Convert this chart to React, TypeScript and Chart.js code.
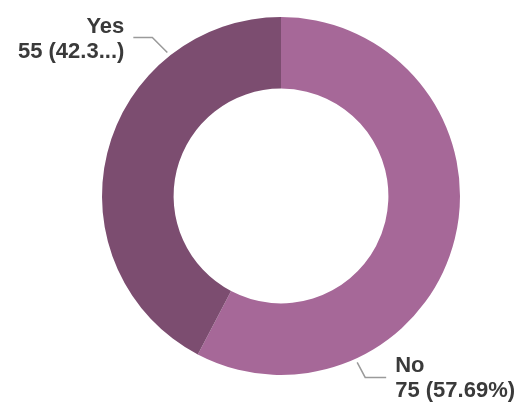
import React, { useEffect, useRef } from "react";
import { Chart, registerables } from "chart.js";

Chart.register(...registerables);

const categories = ["No", "Yes"];
const counts = [75, 55];
const valueLabels = ["75 (57.69%)", "55 (42.3...)"];
const colors = ["#A66898", "#7C4D70"];

// label placement config (angles in degrees, canvas convention)
const labelPlacement = [
  { angle: 65.4, elbow: [8, 15], run: 21, side: "right" },
  { angle: 231.6, elbow: [-15, -15], run: 19, side: "left" },
];

const calloutPlugin = {
  id: "callouts",
  afterDatasetsDraw(chart: any) {
    const meta = chart.getDatasetMeta(0);
    const ctx = chart.ctx;
    meta.data.forEach((arc: any, i: number) => {
      const p = labelPlacement[i];
      const a = (p.angle * Math.PI) / 180;
      const r = arc.outerRadius + 4;
      const ax = arc.x + r * Math.cos(a);
      const ay = arc.y + r * Math.sin(a);
      const ex = ax + p.elbow[0];
      const ey = ay + p.elbow[1];
      const dir = p.side === "right" ? 1 : -1;
      const hx = ex + dir * p.run;
      ctx.save();
      ctx.strokeStyle = "#9a9a9a";
      ctx.lineWidth = 1.5;
      ctx.beginPath();
      ctx.moveTo(ax, ay);
      ctx.lineTo(ex, ey);
      ctx.lineTo(hx, ey);
      ctx.stroke();
      ctx.fillStyle = "#3a3a3a";
      ctx.font = "bold 22px 'Liberation Sans', Arial, sans-serif";
      ctx.textAlign = p.side === "right" ? "left" : "right";
      ctx.textBaseline = "alphabetic";
      const tx = hx + dir * 9;
      ctx.fillText(categories[i], tx, ey - 5);
      ctx.fillText(valueLabels[i], tx, ey + 20);
      ctx.restore();
    });
  },
};

export default function App() {
  const ref = useRef<HTMLCanvasElement | null>(null);
  useEffect(() => {
    const chart = new Chart(ref.current as HTMLCanvasElement, {
      type: "doughnut",
      data: {
        labels: categories,
        datasets: [
          {
            data: counts,
            backgroundColor: colors,
            borderWidth: 0,
          },
        ],
      },
      options: {
        animation: false,
        responsive: false,
        cutout: "60%",
        layout: { padding: { left: 102, right: 71, top: 17, bottom: 29 } },
        plugins: {
          legend: { display: false },
          tooltip: { enabled: false },
        },
      },
      plugins: [calloutPlugin],
    });
    return () => chart.destroy();
  }, []);
  return (
    <div style={{ position: "fixed", left: 0, top: 0, width: 531, height: 404, background: "#fff" }}>
      <canvas ref={ref} width={531} height={404} style={{ display: "block" }} />
    </div>
  );
}
